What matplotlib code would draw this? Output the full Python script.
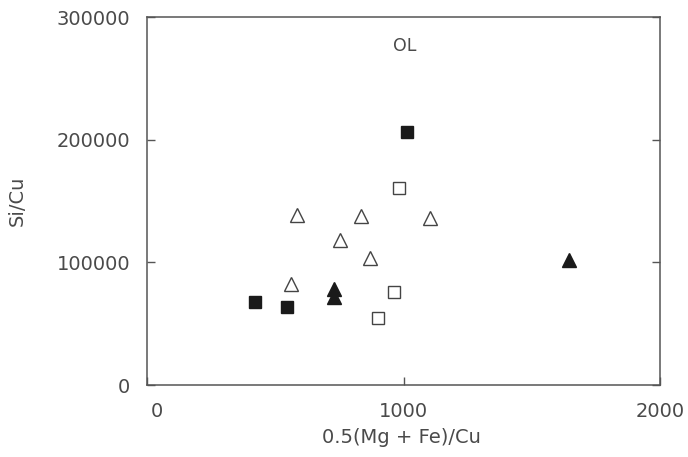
import matplotlib
matplotlib.use("Agg")
import matplotlib.pyplot as plt
from matplotlib.transforms import ScaledTranslation

# Data
filled_sq_x = [1014, 421, 546]
filled_sq_y = [206000, 67600, 63600]
open_sq_x = [982, 963, 901]
open_sq_y = [161000, 76000, 55000]
open_tri_x = [585, 834, 1103, 752, 869, 561]
open_tri_y = [138500, 137500, 136000, 118000, 103500, 82500]
filled_tri_x = [729, 729, 1645]
filled_tri_y = [78000, 72000, 102000]

x_ticks = [0, 1000, 2000]
y_ticks = [0, 100000, 200000, 300000]
label_text = "OL"

txt = "#4a4a4a"
fig = plt.figure(figsize=(6.88, 4.57), dpi=100)
ax = fig.add_axes([0.2137, 0.1575, 0.7456, 0.8053])

ms = 9
ax.plot(filled_sq_x, filled_sq_y, 's', ms=ms, color='#1a1a1a', mec='#1a1a1a')
ax.plot(open_sq_x, open_sq_y, 's', ms=ms, mfc='white', mec='#444444', mew=1.0)
ax.plot(open_tri_x, open_tri_y, '^', ms=ms + 1.5, mfc='white', mec='#444444', mew=1.0)
ax.plot(filled_tri_x, filled_tri_y, '^', ms=ms + 1.5, color='#1a1a1a', mec='#1a1a1a')

ax.text(1005, 276000, label_text, ha='center', va='center', fontsize=12.5, color=txt)

ax.set_xlim(0, 2000)
ax.set_ylim(0, 300000)
ax.set_xticks(x_ticks)
ax.set_yticks(y_ticks)
ax.set_xticklabels([str(v) for v in x_ticks])
ax.set_yticklabels([str(v) for v in y_ticks])
ax.tick_params(direction='in', length=6, width=1, colors='#555555',
               labelcolor=txt, labelsize=14, top=False, right=True)
ax.tick_params(axis='x', pad=12)
ax.tick_params(axis='y', pad=12)
for s in ax.spines.values():
    s.set_color('#555555')
    s.set_linewidth(1.1)

# the "0" x label sits slightly to the right in the reference
fig.canvas.draw()
lbl0 = ax.get_xticklabels()[0]
lbl0.set_transform(lbl0.get_transform() + ScaledTranslation(10 / 100, 0, fig.dpi_scale_trans))

ax.set_xlabel("0.5(Mg + Fe)/Cu", fontsize=14, color=txt)
ax.set_ylabel("Si/Cu", fontsize=14, color=txt)
ax.xaxis.set_label_coords(0.495, -0.142)
ax.yaxis.set_label_coords(-0.253, 0.5)
ax.xaxis.label.set_va('center')
ax.yaxis.label.set_va('center')

fig.savefig("out.png", dpi=100)
